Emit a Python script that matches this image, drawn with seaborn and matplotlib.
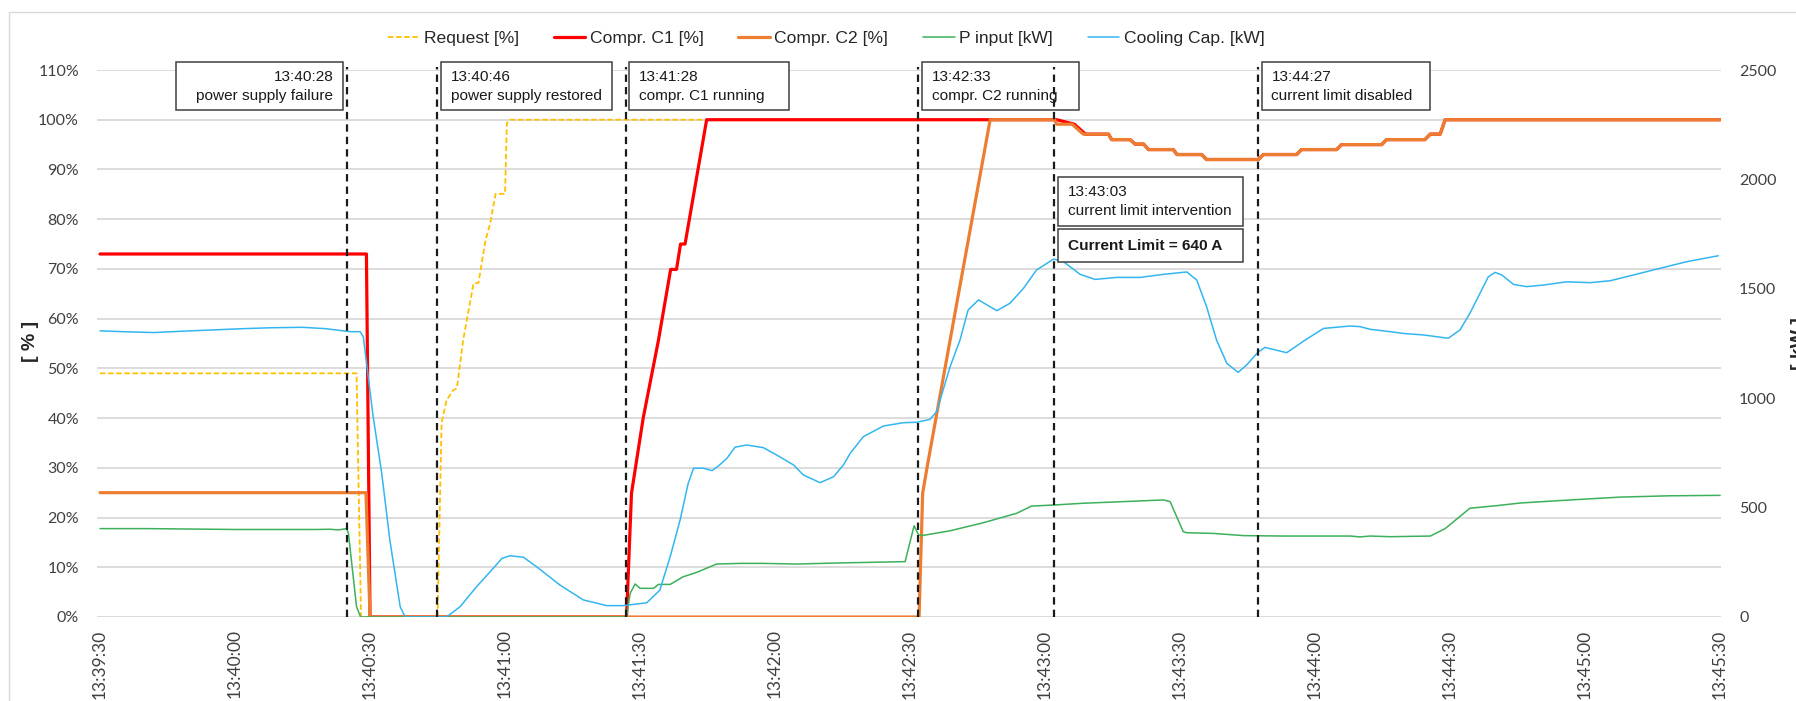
import matplotlib
matplotlib.use("Agg")
import matplotlib.pyplot as plt
from matplotlib.lines import Line2D
from matplotlib.patches import Rectangle
import seaborn as sns

# time axis: seconds after 13:39:30
tick_sec = [0, 30, 60, 90, 120, 150, 180, 210, 240, 270, 300, 330, 360]
tick_labels = ["13:39:30", "13:40:00", "13:40:30", "13:41:00", "13:41:30", "13:42:00", "13:42:30",
               "13:43:00", "13:43:30", "13:44:00", "13:44:30", "13:45:00", "13:45:30"]

# left axis series [%]
request_t = [0, 57.0, 58.0, 75.0, 75.9, 77.0, 78.5, 79.3, 80.7, 83.0, 84.1, 85.6, 86.7, 87.9, 90.0, 90.4, 91.1, 212.0]
request_v = [49, 49, 0, 0, 39, 43.6, 45.6, 46, 55.7, 67.1, 67.2, 75.5, 79.2, 85.1, 85.1, 99.3, 100, 100]

c1_t = [0, 59.2, 60.0, 117.0, 118.1, 120.7, 124.1, 126.8, 128.1, 129.0, 130.0, 134.8, 212.6, 216.5, 219.0,
        224.1, 224.8, 228.9, 230.0, 231.9, 233.0, 238.5, 239.3, 244.8, 245.9, 257.4, 258.5, 265.9, 267.0,
        274.8, 275.9, 284.8, 285.9, 294.4, 295.6, 297.8, 298.9, 360]
c1_v = [73, 73, 0, 0, 24.9, 40, 55.7, 69.9, 69.9, 75, 75, 100, 100, 99.1, 97.1,
        97.1, 96, 96, 95.1, 95.1, 94, 94, 93, 93, 92, 92, 93, 93, 94,
        94, 95, 95, 96, 96, 97.1, 97.1, 100, 100]

c2_t = [0, 59.1, 60.0, 182.0, 182.8, 183.8, 188.9, 197.8, 212.1, 212.6, 216.0, 218.5, 224.1, 224.8, 228.9,
        230.0, 231.9, 233.0, 238.5, 239.3, 244.8, 245.9, 257.4, 258.5, 265.9, 267.0, 274.8, 275.9, 284.8,
        285.9, 294.4, 295.6, 297.8, 298.9, 360]
c2_v = [25, 25, 0, 0, 24.9, 30.2, 55.7, 100, 100, 99.1, 99.1, 97.1, 97.1, 96, 96,
        95.1, 95.1, 94, 94, 93, 93, 92, 92, 93, 93, 94, 94, 95, 95,
        96, 96, 97.1, 97.1, 100, 100]

# right axis series [kW]
pin_t = [0, 10, 20, 30, 40, 48, 51.1, 53, 54.8, 55.2, 57.0, 57.9, 117.0, 117.8, 118.9, 120.0, 123.0, 124.1,
         126.7, 129.6, 132.6, 137.0, 142.2, 147.4, 154.8, 162.2, 166.7, 178.9, 180.9, 181.9, 182.6, 188.9,
         196.3, 203.7, 207.0, 212.1, 218.5, 225.9, 236.3, 237.8, 240.7, 241.5, 247.4, 254.1, 263.0, 277.8,
         280.0, 282.2, 286.7, 295.6, 298.9, 304.4, 310.4, 315.6, 326.7, 337.8, 348.9, 360]
pin_v = [404, 404, 402, 400, 400, 400, 401, 398, 404, 382, 47, 0, 0, 108, 151, 131, 131, 149,
         149, 184, 204, 242, 245, 245, 242, 246, 248, 253, 417, 375, 372, 394,
         431, 474, 507, 512, 520, 526, 535, 527, 390, 385, 382, 372, 370, 370,
         366, 370, 367, 370, 404, 497, 509, 521, 535, 548, 554, 556]

cool_t = [0, 5, 12, 18, 25, 32, 38, 45, 50, 55.6, 57.8, 58.5, 60.7, 62.6, 64.4, 66.7, 67.8, 77.0, 80.0, 83.7,
          87.4, 89.3, 91.1, 94.1, 97.0, 102.2, 107.4, 112.6, 116.3, 121.5, 124.4, 126.7, 128.9, 130.7, 131.9,
          134.1, 136.0, 137.4, 139.3, 141.1, 143.7, 147.4, 150.4, 154.1, 156.3, 160.0, 163.0, 165.2, 166.7,
          169.6, 174.1, 178.5, 181.5, 184.4, 185.9, 188.9, 191.1, 192.9, 195.2, 199.3, 202.2, 205.2, 208.1,
          211.9, 214.1, 217.8, 221.1, 225.9, 231.1, 236.3, 241.5, 243.7, 245.9, 248.1, 250.4, 252.9, 254.8,
          257.4, 258.9, 263.7, 267.8, 271.9, 277.8, 280.0, 282.2, 286.7, 289.6, 294.1, 299.6, 302.2, 304.4,
          308.5, 310.0, 311.5, 314.1, 317.0, 320.7, 325.9, 331.1, 335.6, 340.7, 346.7, 352.6, 359.6]
cool_v = [1308, 1304, 1300, 1306, 1312, 1318, 1322, 1324, 1318, 1304, 1304, 1281, 915, 657, 352, 47, 0, 0, 47, 139,
          223, 268, 280, 273, 230, 146, 78, 52, 52, 65, 123, 276, 443, 611, 680,
          680, 669, 690, 725, 776, 786, 774, 740, 695, 649, 614, 641, 695, 748,
          824, 873, 888, 890, 903, 938, 1144, 1266, 1403, 1449, 1400, 1434, 1502, 1586,
          1636, 1624, 1566, 1543, 1552, 1552, 1566, 1577, 1540, 1418, 1266, 1159, 1118, 1152,
          1212, 1232, 1208, 1266, 1319, 1330, 1327, 1315, 1304, 1296, 1289, 1274, 1312, 1388,
          1555, 1575, 1563, 1520, 1510, 1517, 1532, 1528, 1537, 1563, 1594, 1624, 1651]

# event markers and their notes
event_sec = [54.8, 74.9, 116.8, 181.8, 212.0, 257.3]
note_text = ["13:40:28\npower supply failure", "13:40:46\npower supply restored",
             "13:41:28\ncompr. C1 running", "13:42:33\ncompr. C2 running",
             "13:43:03\ncurrent limit intervention", "Current Limit = 640 A",
             "13:44:27\ncurrent limit disabled"]
note_event = [0, 1, 2, 3, 4, 4, 5]

series_names = ["Request [%]", "Compr. C1 [%]", "Compr. C2 [%]", "P input [kW]", "Cooling Cap. [kW]"]
colors = ["#FFC000", "#FF0000", "#ED7D31", "#3CB05A", "#33B6F0"]

sns.set_theme(style="white")
plt.rcParams["font.family"] = ["Liberation Sans", "DejaVu Sans"]

W, H = 1796, 701
fig = plt.figure(figsize=(W / 100, H / 100), dpi=100)
ax = fig.add_axes([97 / W, 1 - 617 / H, (1721 - 97) / W, (617 - 70) / H])
ax2 = ax.twinx()

req_dash = (0, (3, 1.5))
sns.lineplot(x=request_t, y=request_v, ax=ax, color=colors[0], lw=1.3, linestyle=req_dash,
             sort=False, estimator=None)
sns.lineplot(x=c1_t, y=c1_v, ax=ax, color=colors[1], lw=2.3, sort=False, estimator=None)
sns.lineplot(x=c2_t, y=c2_v, ax=ax, color=colors[2], lw=2.3, sort=False, estimator=None)
sns.lineplot(x=pin_t, y=pin_v, ax=ax2, color=colors[3], lw=1.1, sort=False, estimator=None)
sns.lineplot(x=cool_t, y=cool_v, ax=ax2, color=colors[4], lw=1.1, sort=False, estimator=None)

ax.set_xlim(-0.67, 360.2)
ax.set_ylim(0, 110)
ax2.set_ylim(0, 2500)

xtick_font = dict(family="Lato", size=12.5)
ytick_font = dict(family="Lato", size=11.5)
ax.set_xticks(tick_sec)
ax.set_xticklabels(tick_labels, rotation=90, fontdict=xtick_font, color="#404040")
pct_ticks = list(range(0, 111, 10))
ax.set_yticks(pct_ticks)
ax.set_yticklabels([f"{p}%" for p in pct_ticks], fontdict=ytick_font, color="#404040")
kw_ticks = list(range(0, 2501, 500))
ax2.set_yticks(kw_ticks)
ax2.set_yticklabels([str(k) for k in kw_ticks], fontdict=ytick_font, color="#404040")
ax.tick_params(axis="x", length=0, pad=9)
ax.tick_params(axis="y", length=0, pad=13)
ax2.tick_params(axis="y", length=0, pad=13)
ax.set_xlabel("")
ax.set_ylabel("")
ax2.set_ylabel("")

ax.yaxis.grid(True, color="#D9D9D9", lw=1.3)
ax.xaxis.grid(False)
ax.set_axisbelow(True)
for a in (ax, ax2):
    for s in a.spines.values():
        s.set_visible(False)

# event lines
for t in event_sec:
    ax2.axvline(t, ymin=0, ymax=110.7 / 110, color="#1A1A1A", lw=1.6, dashes=(3.3, 2.3),
                zorder=6, clip_on=False)

# note boxes (x in seconds, y in %)
box_w = [37.0, 38.1, 35.6, 35.0, 41.1, 41.1, 37.5]
box_y = [(101.9, 111.6)] * 4 + [(78.7, 88.5), (71.3, 78.0), (101.9, 111.6)]
for i, txt in enumerate(note_text):
    ev = event_sec[note_event[i]]
    y0, y1 = box_y[i]
    if i == 0:
        x0 = ev - 0.9 - box_w[i]
    else:
        x0 = ev + 0.8
    ax2.add_patch(Rectangle((x0, y0), box_w[i], y1 - y0, transform=ax.transData,
                            facecolor="white", edgecolor="#404040", lw=1.1, zorder=5, clip_on=False))
    bold = txt.startswith("Current")
    if i == 0:
        tx, ha = x0 + box_w[i] - 2.1, "right"
    else:
        tx, ha = x0 + 2.2, "left"
    ax2.text(tx, (y0 + y1) / 2, txt, transform=ax.transData, ha=ha, va="center", multialignment=ha,
             fontsize=11.1, fontweight="bold" if bold else "normal", color="#1A1A1A",
             linespacing=1.45, zorder=7, clip_on=False)

# legend
handles = [Line2D([], [], color=colors[0], lw=1.3, linestyle=req_dash),
           Line2D([], [], color=colors[1], lw=2.3),
           Line2D([], [], color=colors[2], lw=2.3),
           Line2D([], [], color=colors[3], lw=1.1),
           Line2D([], [], color=colors[4], lw=1.1)]
fig.legend(handles, series_names, loc="center", bbox_to_anchor=(826 / W, 1 - 38 / H), ncol=5,
           frameon=False, fontsize=12.6, handlelength=1.8, handletextpad=0.25, columnspacing=2.0,
           labelcolor="#262626")

fig.text(31 / W, 1 - 341 / H, "[ % ]", rotation=90, ha="center", va="center",
         fontsize=14, fontweight="bold", color="#262626")
fig.text(1799 / W, 1 - 344 / H, "[ kW ]", rotation=90, ha="center", va="center",
         fontsize=14, fontweight="bold", color="#262626")

# outer chart frame
fig.add_artist(Line2D([9 / W, 1], [1 - 12 / H] * 2, color="#D9D9D9", lw=1))
fig.add_artist(Line2D([9 / W] * 2, [0, 1 - 12 / H], color="#D9D9D9", lw=1))

fig.savefig("out.png", dpi=100)
